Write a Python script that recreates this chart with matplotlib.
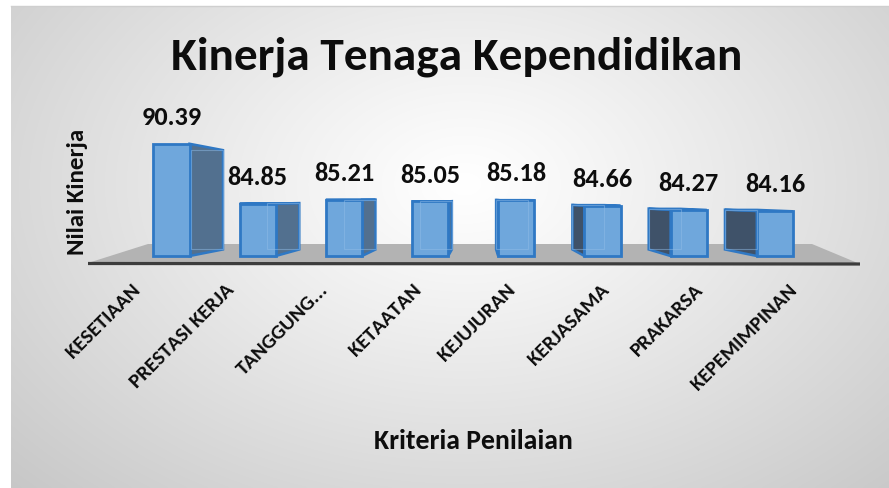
import numpy as np
import matplotlib
matplotlib.use("Agg")
import matplotlib.pyplot as plt
from matplotlib.patches import Polygon

# ---------------- data ----------------
categories = ["KESETIAAN", "PRESTASI KERJA", "TANGGUNG...", "KETAATAN",
              "KEJUJURAN", "KERJASAMA", "PRAKARSA", "KEPEMIMPINAN"]
values = [90.39, 84.85, 85.21, 85.05, 85.18, 84.66, 84.27, 84.16]
title = "Kinerja Tenaga Kependidikan"
x_title = "Kriteria Penilaian"
y_title = "Nilai Kinerja"
base_value = 80

# ---------------- styling / layout ----------------
W, H, DPI = 889, 489, 100
plt.rcParams['font.family'] = ['Carlito', 'Lato', 'DejaVu Sans']
FRONT = "#6fa7dc"
EDGE = "#2f78c4"
SIDE_LEFT_BARS = "#52708f"
SIDE_RIGHT_BARS = "#3f5269"
TOP_FACE = "#5d94cc"
TXT = "#0d0d0d"

X0_PX, PX_PER_X = 171.5, 86.2     # pixel x of first category, pixels per category
BASE_PX, PX_PER_Y = 257.0, 10.8   # pixel y (from top) of base value, pixels per unit
VP_PX = (480.0, 200.0)            # vanishing point of the 3-D look (pixels)
DEPTH = 0.115                     # relative depth of the boxes
BAR_W = 0.42

fig = plt.figure(figsize=(W / DPI, H / DPI), dpi=DPI)
fig.patch.set_facecolor("white")

# background panel with radial gradient
bg = fig.add_axes([11 / W, 0, 1 - 11 / W, 1 - 7 / H])
bg.set_axis_off()
gx = np.linspace(11, W, 400)
gy = np.linspace(7, H, 240)
GX, GY = np.meshgrid(gx, gy)
r = np.sqrt(((GX - 465) / 450) ** 2 + ((GY - 185) / 310) ** 2)
inten = 1 - 0.15 * r ** 1.1
bg.imshow(np.dstack([inten] * 3), aspect="auto", extent=(0, 1, 0, 1),
          interpolation="bilinear", vmin=0, vmax=1)
bg.set_xlim(0, 1)
bg.set_ylim(0, 1)

ax = fig.add_axes([0, 0, 1, 1])
ax.set_facecolor("none")
ax.set_axis_off()
ax.set_xlim(-X0_PX / PX_PER_X, (W - X0_PX) / PX_PER_X)
ax.set_ylim(base_value - (H - BASE_PX) / PX_PER_Y, base_value + BASE_PX / PX_PER_Y)


def px(xp, yp):
    """pixel (from top-left) -> data coordinates (for decorations only)"""
    return ((xp - X0_PX) / PX_PER_X, base_value + (BASE_PX - yp) / PX_PER_Y)


vpx, vpy = px(*VP_PX)

# floor
floor = Polygon([px(88, 264), px(148, 245), px(812, 245), px(860, 265)],
                closed=True, facecolor="#b3b3b3", edgecolor="none", zorder=1)
ax.add_patch(floor)
fx0, fy0 = px(88, 264.5)
fx1, fy1 = px(860, 265)
ax.plot([fx0, fx1], [fy0, fy1], color="#3c3c3c", lw=2.3, solid_capstyle="butt", zorder=1.5)

# bars (front faces)
xs = np.arange(len(categories))
heights = [v - base_value for v in values]
bars = ax.bar(xs, heights, bottom=base_value, width=BAR_W, color=FRONT,
              edgecolor=EDGE, linewidth=2.0, zorder=4)


def back(pt):
    return (pt[0] + DEPTH * (vpx - pt[0]), pt[1] + DEPTH * (vpy - pt[1]))


for b in bars:
    x0, y0 = b.get_x(), b.get_y()
    x1, y1 = x0 + b.get_width(), y0 + b.get_height()
    fbl, fbr, ftr, ftl = (x0, y0), (x1, y0), (x1, y1), (x0, y1)
    bbl, bbr, btr, btl = back(fbl), back(fbr), back(ftr), back(ftl)
    if x1 < vpx:
        side = [ftr, fbr, bbr, btr]
        col = SIDE_LEFT_BARS
    else:
        side = [ftl, fbl, bbl, btl]
        col = SIDE_RIGHT_BARS
    ax.add_patch(Polygon(side, closed=True, facecolor=col, edgecolor=EDGE,
                         linewidth=1.8, zorder=3))
    if y1 < vpy:
        ax.add_patch(Polygon([ftl, ftr, btr, btl], closed=True, facecolor=TOP_FACE,
                             edgecolor=EDGE, linewidth=1.5, zorder=3))
    ax.add_patch(Polygon([bbl, bbr, btr, btl], closed=True, facecolor="none",
                         edgecolor="#8fbbe6", linewidth=0.8, alpha=0.5, zorder=4.5))

# value labels
for xi, v in zip(xs, values):
    ax.annotate(f"{v:.2f}", (xi, v), xytext=(0, 19.5), textcoords="offset points",
                ha="center", va="center", fontsize=19, fontweight="bold",
                color=TXT, zorder=6)

# category labels along the front edge of the floor (perspective spread)
lab_y = px(0, 281)[1]
for xi, lab in zip(xs, categories):
    lx = vpx + 1.089 * (xi - vpx) - 13 / PX_PER_X
    ax.text(lx, lab_y, lab, rotation=45, rotation_mode="anchor", ha="right",
            va="top", fontsize=15, fontweight="bold", color=TXT, zorder=6)

# titles
fig.text(457 / W, 1 - 57 / H, title, ha="center", va="center", fontsize=34,
         fontweight="bold", color=TXT)
fig.text(473 / W, 1 - 441 / H, x_title, ha="center", va="center", fontsize=20,
         fontweight="bold", color=TXT)
fig.text(77 / W, 1 - 192 / H, y_title, ha="center", va="center", rotation=90,
         fontsize=18, fontweight="bold", color=TXT)

# thin top border of the panel
fig.add_artist(plt.Line2D([11 / W, 1], [1 - 7 / H, 1 - 7 / H], color="#cfcfcf",
                          lw=1, transform=fig.transFigure))

fig.savefig("out.png", dpi=DPI)
